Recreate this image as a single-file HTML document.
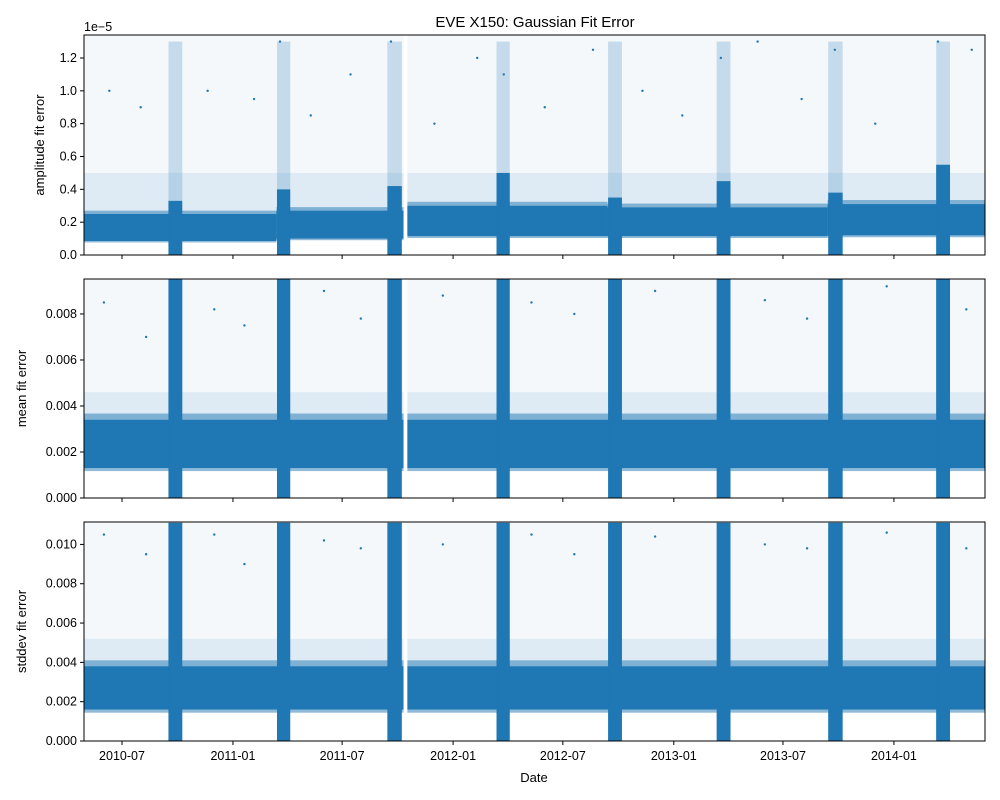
<!DOCTYPE html>
<html><head><meta charset="utf-8"><style>
body{margin:0;background:#fff}
svg{display:block;font-family:"Liberation Sans","DejaVu Sans",sans-serif}
</style></head><body>
<svg id="chart" width="1000" height="800" viewBox="0 0 1000 800"></svg>
<script>
const NS="http://www.w3.org/2000/svg";
const svg=document.getElementById('chart');
// ---- data ----
const dateStart="2010-04-29", dateEnd="2014-06-01";
const xTickLabels=["2010-07","2011-01","2011-07","2012-01","2012-07","2013-01","2013-07","2014-01"];
const eclipseStart=["2010-09-16","2011-03-15","2011-09-14","2012-03-13","2012-09-14","2013-03-13","2013-09-14","2014-03-12"];
const eclipseEnd=["2010-10-09","2011-04-06","2011-10-08","2012-04-04","2012-10-07","2013-04-05","2013-10-08","2014-04-04"];
const gapStart="2011-10-11", gapEnd="2011-10-17";
// band segments: start, end, low, high (dense core), per panel
const ampBand=[["2010-04-29","2011-03-14",0.085,0.25],["2011-03-14","2011-10-11",0.10,0.27],["2011-10-17","2012-09-13",0.115,0.30],["2012-09-13","2013-09-13",0.115,0.29],["2013-09-13","2014-06-01",0.12,0.31]];
const meanBand=[["2010-04-29","2011-10-11",0.0013,0.0034],["2011-10-17","2014-06-01",0.0013,0.0034]];
const stdBand=[["2010-04-29","2011-10-11",0.0016,0.0038],["2011-10-17","2014-06-01",0.0016,0.0038]];
const ampEclipse=[0.33,0.40,0.42,0.50,0.35,0.45,0.38,0.55];
const meanEclipse=[0.0095,0.0095,0.0095,0.0095,0.0095,0.0095,0.0095,0.0095];
const stdEclipse=[0.0111,0.0111,0.0111,0.0111,0.0111,0.0111,0.0111,0.0111];
const ampOut=[["2010-06-10",1.0],["2010-08-01",0.9],["2010-11-20",1.0],["2011-02-05",0.95],["2011-03-20",1.3],["2011-05-10",0.85],["2011-07-15",1.1],["2011-09-20",1.3],["2011-12-01",0.8],["2012-02-10",1.2],["2012-03-25",1.1],["2012-06-01",0.9],["2012-08-20",1.25],["2012-11-10",1.0],["2013-01-15",0.85],["2013-03-20",1.2],["2013-05-20",1.3],["2013-08-01",0.95],["2013-09-25",1.25],["2013-12-01",0.8],["2014-03-15",1.3],["2014-05-10",1.25]];
const meanOut=[["2010-06-01",0.0085],["2010-08-10",0.007],["2010-12-01",0.0082],["2011-01-20",0.0075],["2011-06-01",0.009],["2011-08-01",0.0078],["2011-12-15",0.0088],["2012-05-10",0.0085],["2012-07-20",0.008],["2012-12-01",0.009],["2013-06-01",0.0086],["2013-08-10",0.0078],["2013-12-20",0.0092],["2014-05-01",0.0082]];
const stdOut=[["2010-06-01",0.0105],["2010-08-10",0.0095],["2010-12-01",0.0105],["2011-01-20",0.0090],["2011-06-01",0.0102],["2011-08-01",0.0098],["2011-12-15",0.0100],["2012-05-10",0.0105],["2012-07-20",0.0095],["2012-12-01",0.0104],["2013-06-01",0.0100],["2013-08-10",0.0098],["2013-12-20",0.0106],["2014-05-01",0.0098]];
// ---- helpers ----
const day=s=>Date.parse(s+"T00:00:00Z")/864e5;
const L=84,R=985,C="#1f77b4";
const x=s=>L+(day(s)-day(dateStart))/(day(dateEnd)-day(dateStart))*(R-L);
function el(t,a,p){const e=document.createElementNS(NS,t);for(const k in a)e.setAttribute(k,a[k]);(p||svg).appendChild(e);return e;}
function txt(s,a,p){const e=el('text',a,p);e.textContent=s;return e;}
const panels=[
 {name:'amplitude',top:35,bot:255,max:1.34,ticks:[0,0.2,0.4,0.6,0.8,1.0,1.2],fmt:v=>v.toFixed(1),label:'amplitude fit error',lx:44,band:ampBand,ecl:ampEclipse,out:ampOut,sparse:0.5},
 {name:'mean',top:279,bot:498,max:0.00952,ticks:[0,0.002,0.004,0.006,0.008],fmt:v=>v.toFixed(3),label:'mean fit error',lx:26,band:meanBand,ecl:meanEclipse,out:meanOut,sparse:0.0046},
 {name:'stddev',top:522,bot:741,max:0.01114,ticks:[0,0.002,0.004,0.006,0.008,0.010],fmt:v=>v.toFixed(3),label:'stddev fit error',lx:26,band:stdBand,ecl:stdEclipse,out:stdOut,sparse:0.0052}
];
txt("EVE X150: Gaussian Fit Error",{x:535,y:27,'font-size':15,'text-anchor':'middle',});
panels.forEach((P,pi)=>{
 const g=el('g',{});
 
 
 const y=v=>P.bot-v/P.max*(P.bot-P.top);
 const clip=el('clipPath',{id:'c'+pi},g);el('rect',{x:L,y:P.top,width:R-L,height:P.bot-P.top},clip);
 const plot=el('g',{'clip-path':'url(#c'+pi+')'},g);
 P.band.forEach(b=>{
  const x0=x(b[0]),x1=x(b[1]);
  const sp0=el('rect',{x:x0,y:P.top,width:x1-x0,height:y(P.sparse)-P.top,fill:C,opacity:0.05},plot);
  
  const sp=el('rect',{x:x0,y:y(P.sparse),width:x1-x0,height:y(b[3])-y(P.sparse),fill:C,opacity:0.15},plot);
  
  const h=el('rect',{x:x0,y:y(b[3]*1.08),width:x1-x0,height:y(b[2]*0.9)-y(b[3]*1.08),fill:C,opacity:0.5},plot);
  
  const r=el('rect',{x:x0,y:y(b[3]),width:x1-x0,height:y(b[2])-y(b[3]),fill:C},plot);
  
 });
 eclipseStart.forEach((s,i)=>{
  const x0=x(s),x1=x(eclipseEnd[i]);
  const r=el('rect',{x:x0,y:y(P.ecl[i]),width:x1-x0,height:P.bot-y(P.ecl[i]),fill:C},plot);
  
  if(pi==0){const s2=el('rect',{x:x0,y:y(1.3),width:x1-x0,height:y(P.ecl[i])-y(1.3),fill:C,opacity:0.22},plot);
   }
 });
 const gp=el('rect',{x:x(gapStart),y:P.top,width:x(gapEnd)-x(gapStart),height:P.bot-P.top,fill:'#fff'},plot);
 
 P.out.forEach(o=>{
  const c=el('circle',{cx:x(o[0]),cy:y(o[1]),r:1.2,fill:C},plot);
  
 });
 el('rect',{x:L,y:P.top,width:R-L,height:P.bot-P.top,fill:'none',stroke:'#000','stroke-width':1},g);
 P.ticks.forEach(t=>{
  el('line',{x1:L-4,x2:L,y1:y(t),y2:y(t),stroke:'#000'},g);
  const tl=txt(P.fmt(t),{x:L-7,y:y(t)+4,'font-size':12.5,'text-anchor':'end'},g);
  
 });
 xTickLabels.forEach(t=>{
  const xx=x(t+"-01");
  el('line',{x1:xx,x2:xx,y1:P.bot,y2:P.bot+4,stroke:'#000'},g);
  if(pi==2){const tl=txt(t,{x:xx,y:P.bot+19,'font-size':12.5,'text-anchor':'middle'},g);
   }
 });
 const yl=txt(P.label,{x:0,y:0,'font-size':13,'text-anchor':'middle',transform:`translate(${P.lx},${(P.top+P.bot)/2}) rotate(-90)`},g);
 
 if(pi==0){const o=txt("1e\u22125",{x:84,y:31,'font-size':12.5},g);}
});
txt("Date",{x:534,y:782,'font-size':13,'text-anchor':'middle',});
</script>
</body></html>
